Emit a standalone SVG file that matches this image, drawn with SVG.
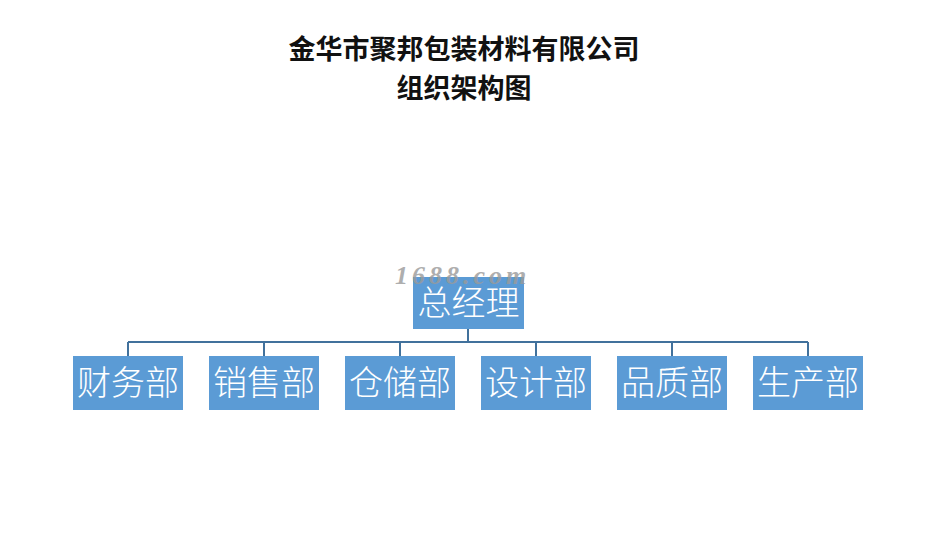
<svg xmlns="http://www.w3.org/2000/svg" width="927" height="549" viewBox="0 0 927 549">
<style>
.title{font-family:"Noto Sans CJK SC","Liberation Sans",sans-serif;font-weight:bold;font-size:27px;fill:#111;text-anchor:middle}
.box{fill:#5B9BD5}
.lbl{font-family:"Noto Sans CJK SC","Liberation Sans",sans-serif;font-weight:300;font-size:34px;fill:#fff;text-anchor:middle}
.conn{stroke:#41719C;stroke-width:2;fill:none}
.wm{font-family:"Liberation Serif",serif;font-style:italic;font-weight:bold;font-size:26px;fill:#9a9a9a;opacity:0.8;letter-spacing:4px}
</style>
<rect width="927" height="549" fill="#fff"/>
<text class="title" x="464" y="59">金华市聚邦包装材料有限公司</text>
<text class="title" x="464" y="98">组织架构图</text>
<g id="connectors">
<path class="conn" d="M468 329V342M128 342H808M128 342V356M264 342V356M400 342V356M536 342V356M672 342V356M808 342V356"/>
</g>
<g id="n0"><rect class="box" x="413" y="277" width="111" height="52"/><text class="lbl" x="468.5" y="315">总经理</text></g>
<g id="n1"><rect class="box" x="73" y="356" width="110" height="54"/><text class="lbl" x="128" y="395">财务部</text></g>
<g id="n2"><rect class="box" x="209" y="356" width="110" height="54"/><text class="lbl" x="264" y="395">销售部</text></g>
<g id="n3"><rect class="box" x="345" y="356" width="110" height="54"/><text class="lbl" x="400" y="395">仓储部</text></g>
<g id="n4"><rect class="box" x="481" y="356" width="110" height="54"/><text class="lbl" x="536" y="395">设计部</text></g>
<g id="n5"><rect class="box" x="617" y="356" width="110" height="54"/><text class="lbl" x="672" y="395">品质部</text></g>
<g id="n6"><rect class="box" x="753" y="356" width="110" height="54"/><text class="lbl" x="808" y="395">生产部</text></g>
<text class="wm" x="395" y="284">1688.com</text>
</svg>
